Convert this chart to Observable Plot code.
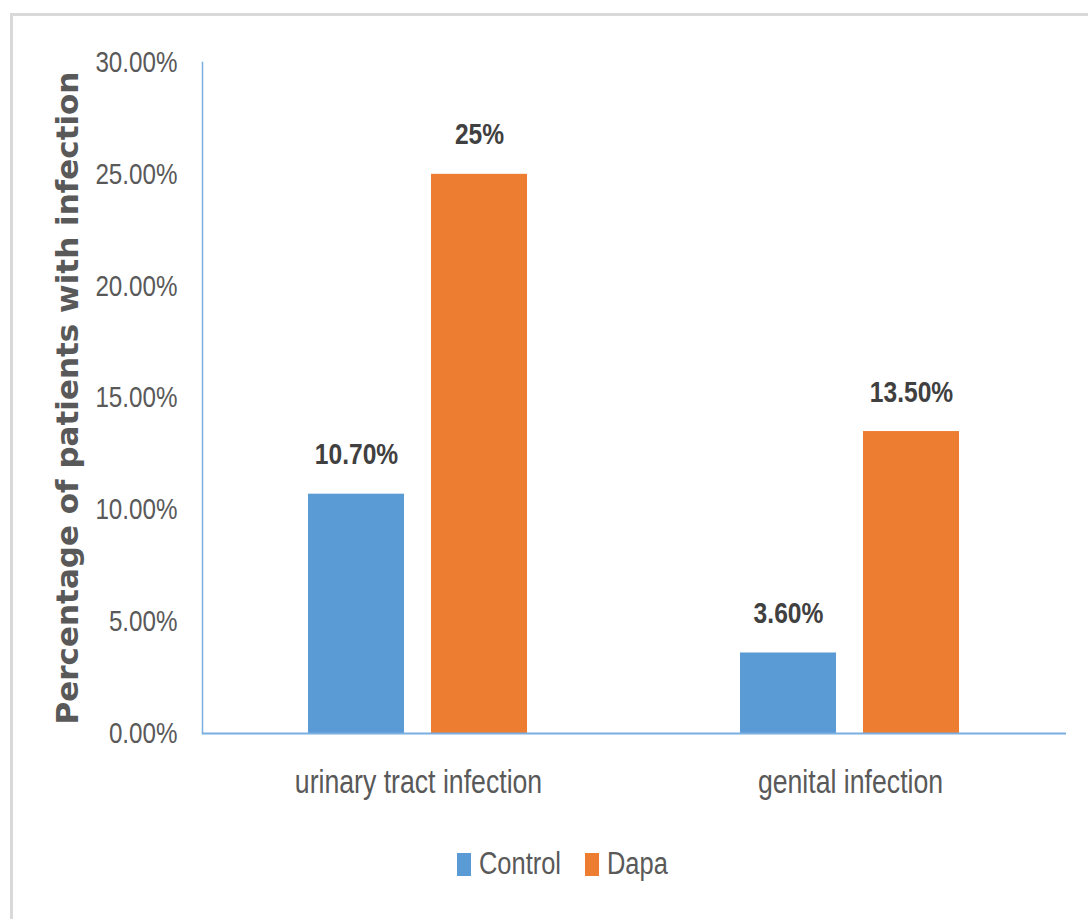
<!DOCTYPE html>
<html>
<head>
<meta charset="utf-8">
<script src="https://cdn.jsdelivr.net/npm/d3@7"></script>
<script src="https://cdn.jsdelivr.net/npm/@observablehq/plot@0.6"></script>
<style>
  html, body { margin: 0; padding: 0; background: #fff; overflow: hidden; }
  #wrap { position: relative; width: 1088px; height: 919px; }
  #border { position: absolute; left: 10px; top: 13px; width: 1100px; height: 1000px; border: 3px solid #d9d9d9; box-sizing: border-box; }
  #chart { position: absolute; left: 0; top: 0; }
  #legend { position: absolute; left: 0; top: 846px; width: 1088px; display: flex; justify-content: center; font-family: "Liberation Sans", Arial, sans-serif; font-size: 31px; color: #595959; padding-left: 36px; box-sizing: border-box; }
  .item { display: flex; align-items: center; margin: 0 12px; }
  .sw { width: 14px; height: 23px; margin-right: 8px; }
  .lt { display: inline-block; transform: scaleX(0.82); transform-origin: left center; }
</style>
</head>
<body>
<div id="wrap">
  <div id="border"></div>
  <div id="chart"></div>
  <div id="legend"></div>
</div>
<script>
const categories = ["urinary tract infection", "genital infection"];
const groups = ["Control", "Dapa"];
const controlValues = [0.107, 0.036];
const dapaValues = [0.25, 0.135];
const controlLabels = ["10.70%", "3.60%"];
const dapaLabels = ["25%", "13.50%"];
const yTicks = [0, 0.05, 0.10, 0.15, 0.20, 0.25, 0.30];
const colors = ["#5b9bd5", "#ed7d31"];
const yTitle = "Percentage of patients with infection";

const data = [];
categories.forEach((c, i) => {
  data.push({category: c, group: groups[0], value: controlValues[i], label: controlLabels[i]});
  data.push({category: c, group: groups[1], value: dapaValues[i], label: dapaLabels[i]});
});

const chart = Plot.plot({
  width: 1088,
  height: 820,
  marginLeft: 202,
  marginRight: 22,
  marginTop: 62,
  marginBottom: 87,
  style: {fontFamily: "'Liberation Sans', Arial, sans-serif", color: "#595959", background: "transparent"},
  fx: {domain: categories, padding: 0, label: null},
  x: {domain: groups, paddingInner: 0.2195, paddingOuter: 0.864, axis: null},
  y: {domain: [0, 0.30], label: null},
  color: {domain: groups, range: colors},
  marks: [
    Plot.barY(data, {fx: "category", x: "group", y: "value", fill: "group"}),
    Plot.ruleY([0], {stroke: "#7aaee0", strokeWidth: 2}),
    Plot.frame({anchor: "left", facetAnchor: "left", stroke: "#7aaee0", strokeWidth: 1.5}),
    Plot.text(data, {fx: "category", x: "group", y: "value", text: "label", dy: -30, lineAnchor: "bottom", fontSize: 30, fontWeight: "bold", fill: "#404040", className: "narrow"}),
    Plot.axisY({ticks: yTicks, tickSize: 0, tickPadding: 25, fontSize: 29.5, fontWeight: "500", tickFormat: d3.format(".2%"), label: null, className: "narrow"}),
    Plot.axisFx({anchor: "bottom", tickSize: 0, tickPadding: 36, fontSize: 32.5, label: null, className: "narrow"}),
    Plot.text([yTitle], {facetAnchor: "left", frameAnchor: "left", textAnchor: "middle", rotate: -90, dx: -134, fontSize: 31, fontWeight: "bold", fontFamily: "'DejaVu Sans', sans-serif", fill: "#595959"})
  ]
});
document.getElementById("chart").appendChild(chart);

// emulate a narrow face (Calibri-like) by compressing glyphs horizontally
chart.querySelectorAll(".narrow text").forEach(el => {
  const len = el.getComputedTextLength();
  el.setAttribute("textLength", (len * 0.82).toFixed(1));
  el.setAttribute("lengthAdjust", "spacingAndGlyphs");
});

const legend = document.getElementById("legend");
groups.forEach((g, i) => {
  const item = document.createElement("div");
  item.className = "item";
  const sw = document.createElement("div");
  sw.className = "sw";
  sw.style.background = colors[i];
  const t = document.createElement("span");
  t.className = "lt";
  t.textContent = g;
  item.appendChild(sw);
  item.appendChild(t);
  legend.appendChild(item);
});
legend.querySelectorAll(".lt").forEach(s => {
  s.style.marginRight = (-0.18 * s.offsetWidth) + "px";
});
</script>
</body>
</html>
